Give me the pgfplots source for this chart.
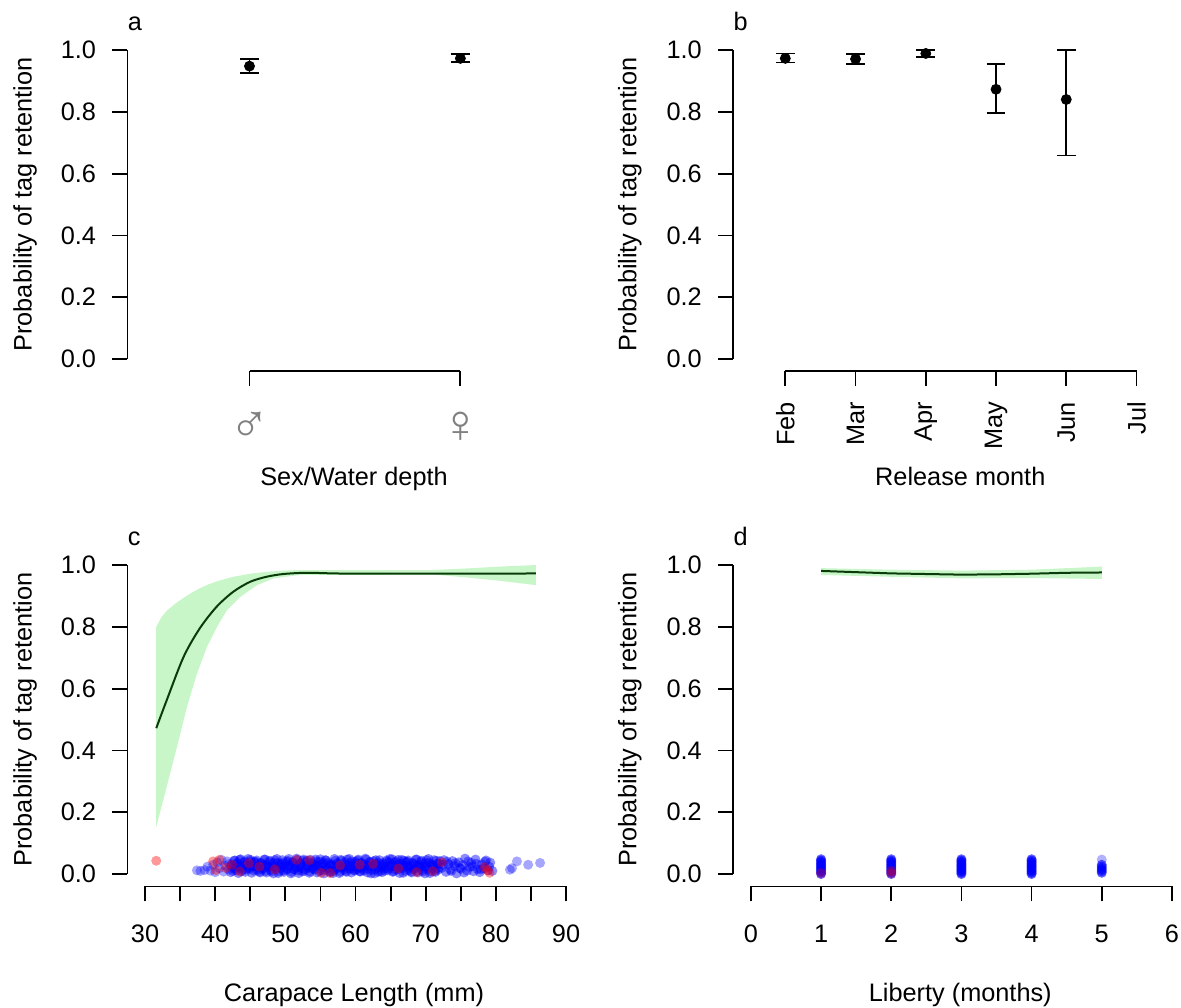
\documentclass[border=0pt]{standalone}
\usepackage{fontspec}
\setmainfont{Liberation Sans}
\usepackage{pgfplots}
\pgfplotsset{compat=1.18}
\definecolor{band}{RGB}{200,246,200}
\definecolor{curve}{RGB}{10,60,10}
\pgfplotsset{
 panel/.style={scale only axis, width=226.8pt, height=166.85pt, anchor=south west,
   ymin=-0.04, ymax=1.04, clip=false, unbounded coords=jump,
   axis x line*=bottom, axis y line*=left, axis line style={draw=none,-},
   tick align=outside, major tick length=7.5pt,
   tick style={black, line width=0.9pt},
   ytick={0,0.2,0.4,0.6,0.8,1}, yticklabels={0.0,0.2,0.4,0.6,0.8,1.0},
   yticklabel style={anchor=east, inner sep=0pt, xshift=-8pt},
 },
 ebar/.style={black, line width=0.9pt, mark=none},
 dot/.style={only marks, mark=*, mark size=2.5pt, black},
 bluept/.style={only marks, mark=*, mark size=2.5pt, color=blue, mark options={draw opacity=0, fill=blue, fill opacity=#1}},
 bluept/.default=0.35,
 redpt/.style={only marks, mark=*, mark size=2.5pt, color=red, mark options={draw opacity=0, fill=red, fill opacity=#1}},
 redpt/.default=0.35,
}
\begin{document}
\fontsize{12.65pt}{15pt}\selectfont
\begin{tikzpicture}
\path[use as bounding box] (0,0) rectangle (590.5pt,503.5pt);

% ---------------- panel a
\begin{axis}[panel, at={(63.7pt,317.8pt)}, xmin=0.421, xmax=2.572,
  xtick={1,2}, xticklabels={♂,♀},
  xticklabel style={anchor=center, inner sep=0pt, yshift=-20.5pt, text=black!50, font=\fontsize{27pt}{28pt}\selectfont}]
\addplot[ebar] coordinates {(1,0.927) (1,0.970) (nan,nan) (0.955,0.970) (1.045,0.970) (nan,nan) (0.955,0.927) (1.045,0.927)};
\addplot[ebar] coordinates {(2,0.961) (2,0.988) (nan,nan) (1.955,0.988) (2.045,0.988) (nan,nan) (1.955,0.961) (2.045,0.961)};
\addplot[dot] coordinates {(1,0.948) (2,0.973)};
\draw[line width=0.9pt] (axis cs:0.421,0) -- (axis cs:0.421,1);
\draw[line width=0.9pt] (axis cs:1,-0.04) -- (axis cs:2,-0.04);
\end{axis}

% ---------------- panel b
\begin{axis}[panel, at={(366.6pt,317.8pt)}, xmin=1.258, xmax=7.716,
  xtick={2,3,4,5,6,7}, xticklabels={Feb,Mar,Apr,May,Jun,Jul},
  xticklabel style={yshift=-7.65pt, rotate=90, anchor=east, inner sep=0pt}]
\addplot[ebar] coordinates {(2,0.960) (2,0.989) (nan,nan) (1.866,0.989) (2.134,0.989) (nan,nan) (1.866,0.960) (2.134,0.960)};
\addplot[ebar] coordinates {(3,0.956) (3,0.987) (nan,nan) (2.866,0.987) (3.134,0.987) (nan,nan) (2.866,0.956) (3.134,0.956)};
\addplot[ebar] coordinates {(4,0.977) (4,1.000) (nan,nan) (3.866,1.000) (4.134,1.000) (nan,nan) (3.866,0.977) (4.134,0.977)};
\addplot[ebar] coordinates {(5,0.795) (5,0.954) (nan,nan) (4.866,0.954) (5.134,0.954) (nan,nan) (4.866,0.795) (5.134,0.795)};
\addplot[ebar] coordinates {(6,0.659) (6,1.000) (nan,nan) (5.866,1.000) (6.134,1.000) (nan,nan) (5.866,0.659) (6.134,0.659)};
\addplot[dot] coordinates {(2,0.973) (3,0.971) (4,0.989) (5,0.873) (6,0.840)};
\draw[line width=0.9pt] (axis cs:1.258,0) -- (axis cs:1.258,1);
\draw[line width=0.9pt] (axis cs:2,-0.04) -- (axis cs:7,-0.04);
\end{axis}

% ---------------- panel c
\begin{axis}[panel, at={(63.7pt,60.3pt)}, xmin=27.49, xmax=92.13,
  xtick={30,35,...,90}, xticklabels={30,,40,,50,,60,,70,,80,,90},
  xticklabel style={anchor=north, inner sep=0pt, yshift=-11.5pt}]
\addplot[fill=band, draw=none] coordinates {(31.6,0.800) (32.3,0.830) (33.1,0.852) (34.3,0.875) (35.5,0.894) (36.7,0.911) (37.8,0.925) (39.0,0.937) (40.2,0.947) (41.4,0.955) (42.6,0.962) (45.0,0.972) (47.3,0.978) (49.7,0.982) (52.1,0.984) (71.1,0.984) (75.8,0.989) (80.6,0.995) (85.7,1.0)
 (85.7,0.935) (80.6,0.949) (75.8,0.960) (71.1,0.969) (52.1,0.968) (48.33,0.957) (45.96,0.935) (43.58,0.897) (41.68,0.854) (40.26,0.800) (38.84,0.736) (37.41,0.649) (35.99,0.542) (34.56,0.412) (33.1,0.283) (31.6,0.153)} -- cycle;
\addplot[curve, line width=1pt, smooth] coordinates {(31.6,0.472) (33.1,0.563) (35.5,0.703) (37.8,0.795) (40.2,0.865) (42.6,0.914) (45.0,0.946) (47.3,0.962) (49.7,0.971) (53.0,0.975) (56.8,0.973) (60.6,0.972) (70,0.972) (80,0.972) (85.7,0.973)};
% sparse blue points
\addplot[bluept] coordinates {
(37.4,0.012) (37.9,0.010) (38.5,0.013) (38.9,0.024) (39.3,0.011) (39.7,0.030) (40.0,0.006) (40.3,0.038) (40.6,0.019) (40.9,0.046) (41.2,0.008) (41.4,0.027) (41.7,0.041) (41.9,0.015) (42.0,0.033)
(82.0,0.014) (82.3,0.019) (83.0,0.041) (84.6,0.030) (86.3,0.036)};
% dense blue points
\addplot[bluept=0.45] coordinates {
(42.2,0.006) (42.4,0.031) (42.6,0.018) (42.8,0.044) (43.0,0.012) (43.2,0.037) (43.4,0.024) (43.6,0.048) (43.8,0.009) (44.0,0.028) (44.2,0.041) (44.4,0.015) (44.6,0.034) (44.8,0.021) (45.0,0.046) (45.2,0.004) (45.4,0.026) (45.6,0.039)
(45.8,0.040) (46.0,0.013) (46.2,0.027) (46.4,0.005) (46.6,0.035) (46.8,0.019) (47.0,0.047) (47.2,0.010) (47.4,0.030) (47.6,0.022) (47.8,0.043) (48.0,0.008) (48.2,0.025) (48.4,0.036) (48.6,0.016) (48.8,0.049) (49.0,0.003) (49.2,0.032)
(49.4,0.020) (49.6,0.045) (49.8,0.007) (50.0,0.033) (50.2,0.014) (50.4,0.042) (50.6,0.026) (50.8,0.002) (51.0,0.038) (51.2,0.017) (51.4,0.029) (51.6,0.050) (51.8,0.011) (52.0,0.023) (52.2,0.036) (52.4,0.009) (52.6,0.047) (52.8,0.016)
(53.0,0.039) (53.2,0.026) (53.4,0.004) (53.6,0.046) (53.8,0.021) (54.0,0.034) (54.2,0.015) (54.4,0.041) (54.6,0.028) (54.8,0.009) (55.0,0.048) (55.2,0.024) (55.4,0.037) (55.6,0.012) (55.8,0.044) (56.0,0.018) (56.2,0.031) (56.4,0.006)
(56.6,0.032) (56.8,0.003) (57.0,0.049) (57.2,0.016) (57.4,0.036) (57.6,0.025) (57.8,0.008) (58.0,0.043) (58.2,0.022) (58.4,0.030) (58.6,0.010) (58.8,0.047) (59.0,0.019) (59.2,0.035) (59.4,0.005) (59.6,0.027) (59.8,0.013) (60.0,0.040)
(60.2,0.016) (60.4,0.047) (60.6,0.009) (60.8,0.036) (61.0,0.023) (61.2,0.011) (61.4,0.050) (61.6,0.029) (61.8,0.017) (62.0,0.038) (62.2,0.002) (62.4,0.026) (62.6,0.042) (62.8,0.014) (63.0,0.033) (63.2,0.007) (63.4,0.045) (63.6,0.020)
(63.8,0.006) (64.0,0.031) (64.2,0.018) (64.4,0.044) (64.6,0.012) (64.8,0.037) (65.0,0.024) (65.2,0.048) (65.4,0.009) (65.6,0.028) (65.8,0.041) (66.0,0.015) (66.2,0.034) (66.4,0.021) (66.6,0.046) (66.8,0.004) (67.0,0.026) (67.2,0.039)
(67.4,0.040) (67.6,0.013) (67.8,0.027) (68.0,0.005) (68.2,0.035) (68.4,0.019) (68.6,0.047) (68.8,0.010) (69.0,0.030) (69.2,0.022) (69.4,0.043) (69.6,0.008) (69.8,0.025) (70.0,0.036) (70.2,0.016) (70.4,0.049) (70.6,0.003) (70.8,0.032)
(71.0,0.020) (71.2,0.045) (71.4,0.007) (71.6,0.033) (71.8,0.014) (72.0,0.042)
(42.3,0.027) (42.5,0.010) (42.7,0.043) (42.9,0.019) (43.1,0.033) (43.3,0.003) (43.5,0.046) (43.7,0.022) (43.9,0.014) (44.1,0.038) (44.3,0.007) (44.5,0.030) (44.7,0.049) (44.9,0.017) (45.1,0.041) (45.3,0.024) (45.5,0.011) (45.7,0.035)
(45.9,0.044) (46.1,0.021) (46.3,0.008) (46.5,0.036) (46.7,0.016) (46.9,0.029) (47.1,0.047) (47.3,0.005) (47.5,0.025) (47.7,0.040) (47.9,0.013) (48.1,0.032) (48.3,0.002) (48.5,0.045) (48.7,0.020) (48.9,0.037) (49.1,0.009) (49.3,0.028)
(49.5,0.035) (49.7,0.011) (49.9,0.024) (50.1,0.041) (50.3,0.017) (50.5,0.049) (50.7,0.030) (50.9,0.007) (51.1,0.038) (51.3,0.014) (51.5,0.022) (51.7,0.046) (51.9,0.003) (52.1,0.033) (52.3,0.019) (52.5,0.043) (52.7,0.010) (52.9,0.027)
(53.1,0.044) (53.3,0.021) (53.5,0.008) (53.7,0.036) (53.9,0.016) (54.1,0.029) (54.3,0.047) (54.5,0.005) (54.7,0.025) (54.9,0.040) (55.1,0.013) (55.3,0.032) (55.5,0.002) (55.7,0.045) (55.9,0.020) (56.1,0.037) (56.3,0.009) (56.5,0.028)
(56.7,0.027) (56.9,0.010) (57.1,0.043) (57.3,0.019) (57.5,0.033) (57.7,0.003) (57.9,0.046) (58.1,0.022) (58.3,0.014) (58.5,0.038) (58.7,0.007) (58.9,0.030) (59.1,0.049) (59.3,0.017) (59.5,0.041) (59.7,0.024) (59.9,0.011) (60.1,0.035)
(60.3,0.044) (60.5,0.021) (60.7,0.008) (60.9,0.036) (61.1,0.016) (61.3,0.029) (61.5,0.047) (61.7,0.005) (61.9,0.025) (62.1,0.040) (62.3,0.013) (62.5,0.032) (62.7,0.002) (62.9,0.045) (63.1,0.020) (63.3,0.037) (63.5,0.009) (63.7,0.028)
(63.9,0.035) (64.1,0.011) (64.3,0.024) (64.5,0.041) (64.7,0.017) (64.9,0.049) (65.1,0.030) (65.3,0.007) (65.5,0.038) (65.7,0.014) (65.9,0.022) (66.1,0.046) (66.3,0.003) (66.5,0.033) (66.7,0.019) (66.9,0.043) (67.1,0.010) (67.3,0.027)
(67.5,0.044) (67.7,0.021) (67.9,0.008) (68.1,0.036) (68.3,0.016) (68.5,0.029) (68.7,0.047) (68.9,0.005) (69.1,0.025) (69.3,0.040) (69.5,0.013) (69.7,0.032) (69.9,0.002) (70.1,0.045) (70.3,0.020) (70.5,0.037) (70.7,0.009) (70.9,0.028)
(71.1,0.027) (71.3,0.010) (71.5,0.043) (71.7,0.019) (71.9,0.033)
(72.3,0.020) (72.6,0.045) (72.9,0.007) (73.2,0.033) (73.5,0.014) (73.8,0.042) (74.1,0.026) (74.4,0.002) (74.7,0.038) (75.0,0.017) (75.3,0.029) (75.6,0.050) (75.9,0.011) (76.2,0.023) (76.5,0.036) (76.8,0.009) (77.1,0.047) (77.4,0.016) (77.7,0.006) (78.0,0.031) (78.3,0.018) (78.6,0.044) (78.9,0.012) (79.2,0.037) (79.5,0.010)
(72.45,0.030) (73.05,0.040) (73.65,0.010) (74.25,0.035) (74.85,0.020) (75.45,0.005) (76.05,0.041) (76.65,0.025) (77.25,0.033) (77.85,0.015) (78.45,0.040) (79.05,0.024)};
\addplot[redpt=0.4] coordinates {(31.6,0.043) (39.7,0.041) (40.1,0.013) (40.6,0.046) (41.5,0.020) (42.4,0.030) (43.5,0.008) (44.8,0.035) (46.3,0.024) (48.5,0.015) (51.6,0.046) (53.4,0.045) (55.1,0.004) (56.4,0.003) (57.8,0.028) (60.6,0.030) (62.5,0.033) (66.1,0.018) (68.7,0.006) (71.0,0.009) (72.3,0.038) (78.4,0.022) (78.8,0.012) (79.1,0.004)};
\draw[line width=0.9pt] (axis cs:27.49,0) -- (axis cs:27.49,1);
\draw[line width=0.9pt] (axis cs:30,-0.04) -- (axis cs:90,-0.04);
\end{axis}

% ---------------- panel d
\begin{axis}[panel, at={(366.6pt,60.3pt)}, xmin=-0.252, xmax=6.212,
  xtick={0,1,2,3,4,5,6}, xticklabels={0,1,2,3,4,5,6},
  xticklabel style={anchor=north, inner sep=0pt, yshift=-11.5pt}]
\addplot[fill=band, draw=none] coordinates {(1,0.990) (2,0.985) (3,0.982) (4,0.985) (5,0.995) (5,0.955) (4,0.958) (3,0.957) (2,0.962) (1,0.968)} -- cycle;
\addplot[curve, line width=1pt] coordinates {(1,0.981) (1.5,0.977) (2,0.973) (2.5,0.971) (3,0.969) (3.5,0.970) (4,0.972) (4.5,0.975) (5,0.976)};
\addplot[bluept=0.6] coordinates {
(1,0.000) (1,0.004) (1,0.008) (1,0.012) (1,0.016) (1,0.020) (1,0.024) (1,0.028) (1,0.032) (1,0.036) (1,0.040) (1,0.044) (1,0.048)
(2,0.000) (2,0.004) (2,0.008) (2,0.012) (2,0.016) (2,0.020) (2,0.024) (2,0.028) (2,0.032) (2,0.036) (2,0.040) (2,0.044) (2,0.048)
(3,0.000) (3,0.004) (3,0.008) (3,0.012) (3,0.016) (3,0.020) (3,0.024) (3,0.028) (3,0.032) (3,0.036) (3,0.040) (3,0.044) (3,0.048)
(4,0.000) (4,0.004) (4,0.008) (4,0.012) (4,0.016) (4,0.020) (4,0.024) (4,0.028) (4,0.032) (4,0.036) (4,0.040) (4,0.044) (4,0.048)
(5,0.004) (5,0.009) (5,0.014) (5,0.019) (5,0.024) (5,0.030)};
\addplot[bluept=0.3] coordinates {(5,0.047)};
\addplot[redpt=0.3] coordinates {(1,0.003) (2,0.002) (2,0.010)};
\draw[line width=0.9pt] (axis cs:-0.252,0) -- (axis cs:-0.252,1);
\draw[line width=0.9pt] (axis cs:0,-0.04) -- (axis cs:6,-0.04);
\end{axis}

% ---------------- texts
\node[anchor=base west, inner sep=0pt] at (63.7pt,488.25pt) {a};
\node[anchor=base west, inner sep=0pt] at (366.6pt,488.25pt) {b};
\node[anchor=base west, inner sep=0pt] at (63.7pt,230.75pt) {c};
\node[anchor=base west, inner sep=0pt] at (366.6pt,230.75pt) {d};
\node[rotate=90, inner sep=0pt] at (12.5pt,401.25pt) {Probability of tag retention};
\node[rotate=90, inner sep=0pt] at (314.85pt,401.25pt) {Probability of tag retention};
\node[rotate=90, inner sep=0pt] at (12.5pt,143.75pt) {Probability of tag retention};
\node[rotate=90, inner sep=0pt] at (314.85pt,143.75pt) {Probability of tag retention};
\node[anchor=base, inner sep=0pt] at (177pt,260.5pt) {Sex/Water depth};
\node[anchor=base, inner sep=0pt] at (480.15pt,260.5pt) {Release month};
\node[anchor=base, inner sep=0pt] at (177pt,3pt) {Carapace Length (mm)};
\node[anchor=base, inner sep=0pt] at (480.15pt,3pt) {Liberty (months)};
\end{tikzpicture}
\end{document}
